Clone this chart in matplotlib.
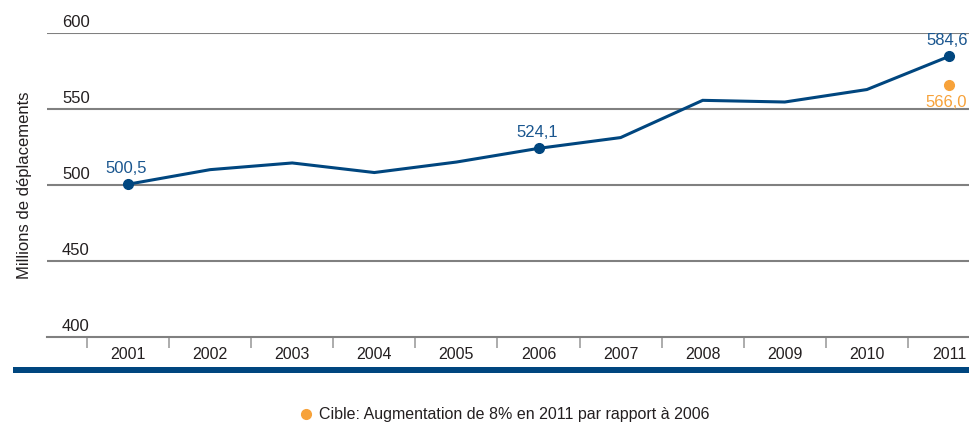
import matplotlib
matplotlib.use("Agg")
import matplotlib.pyplot as plt
from matplotlib.patches import Rectangle
from matplotlib.lines import Line2D

plt.rcParams['font.family'] = ['Liberation Sans', 'DejaVu Sans']

# Data
years = ["2001", "2002", "2003", "2004", "2005", "2006", "2007", "2008", "2009", "2010", "2011"]
trips = [500.5, 510.1, 514.5, 508.2, 515.1, 524.1, 531.2, 555.7, 554.6, 562.8, 584.6]
labelled_years = ["2001", "2006", "2011"]
target_year = "2011"
target_value = 566.0
y_ticks = [400, 450, 500, 550, 600]
y_label = "Millions de déplacements"
legend_text = "Cible: Augmentation de 8% en 2011 par rapport à 2006"

BLUE = "#00467f"
BLUE_TXT = "#1a568f"
ORANGE = "#f7a23a"
GREY = "#808080"
TXT = "#231f20"

W, H = 970, 424
fig = plt.figure(figsize=(W / 100, H / 100), dpi=100)
ax = fig.add_axes([47 / W, (H - 337) / H, 923 / W, 304 / H])

x = list(range(len(years)))
ax.set_xlim(-0.987, 10.256)
ax.set_ylim(y_ticks[0], y_ticks[-1])

# horizontal grid lines
for v in y_ticks[1:]:
    ax.axhline(v, color=GREY, lw=1.5, zorder=1)
for side in ("top", "right", "left"):
    ax.spines[side].set_visible(False)
ax.spines["bottom"].set_color(GREY)
ax.spines["bottom"].set_linewidth(1.5)

# y tick labels written above each grid line
ax.set_yticks([])
for v in y_ticks:
    ax.annotate(str(v), xy=(0.0163, v), xycoords=("axes fraction", "data"),
                xytext=(0, 4), textcoords="offset points",
                ha="left", va="baseline", fontsize=12, color=TXT)

# category labels with separators between them
ax.set_xticks(x)
ax.set_xticklabels(years, fontsize=11.5, color=TXT)
ax.tick_params(axis="x", which="major", length=0, pad=7)
ax.set_xticks([i - 0.5 for i in x], minor=True)
ax.tick_params(axis="x", which="minor", length=8, width=1.3, color="#a6a6a6", direction="out")

# main series
ax.plot(x, trips, color=BLUE, lw=2.2, zorder=3, solid_joinstyle="miter")
for yr in labelled_years:
    i = years.index(yr)
    ax.plot(x[i], trips[i], "o", color=BLUE, ms=7, zorder=4)
    ax.annotate(f"{trips[i]:.1f}".replace(".", ","), xy=(x[i], trips[i]),
                xytext=(-1, 6), textcoords="offset points",
                ha="center", va="bottom", fontsize=12, color=BLUE_TXT)

# target point
ti = years.index(target_year)
ax.plot(x[ti], target_value, "o", color=ORANGE, ms=7, zorder=4)
ax.annotate(f"{target_value:.1f}".replace(".", ","), xy=(x[ti], target_value),
            xytext=(-2, -7.5), textcoords="offset points",
            ha="center", va="top", fontsize=12, color=ORANGE)

ax.set_ylabel(y_label, fontsize=12, color=TXT)
ax.yaxis.set_label_coords(-15 / 923, (337 - 185) / 304)

# thick band under the axis
fig.patches.append(Rectangle((13 / W, (H - 373) / H), (W - 13) / W, 6 / H,
                             transform=fig.transFigure, color=BLUE, lw=0))

# legend line
fig.add_artist(Line2D([306.5 / W], [(H - 414) / H], marker="o", color=ORANGE, ms=7,
                      transform=fig.transFigure, linestyle="none"))
fig.text(319 / W, (H - 414) / H, legend_text, ha="left", va="center",
         fontsize=11.5, color=TXT)

fig.savefig("out.png", dpi=100)
